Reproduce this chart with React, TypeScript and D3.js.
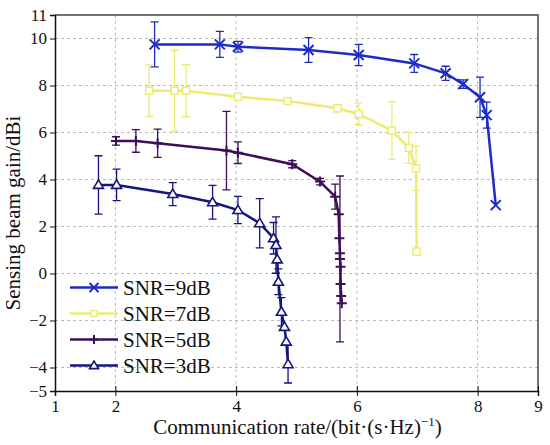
import { useEffect, useRef } from 'react';
import * as d3 from 'd3';

// SNR = 9 dB
const rate9 = [2.65, 3.73, 4.03, 5.2, 6.03, 6.95, 7.47, 7.76, 8.04, 8.15, 8.3];
const gain9 = [9.75, 9.75, 9.65, 9.51, 9.3, 8.94, 8.52, 8.06, 7.5, 6.74, 2.91];
const err9 = [0.96, 0.55, 0.23, 0.53, 0.45, 0.38, 0.3, 0.18, 0.86, 0.55, 0];

// SNR = 7 dB
const rate7 = [2.56, 2.98, 3.17, 4.03, 4.85, 5.68, 6.03, 6.58, 6.86, 6.98, 6.99];
const gain7 = [7.78, 7.78, 7.78, 7.52, 7.34, 7.03, 6.79, 6.08, 5.35, 4.48, 0.93];
const err7 = [1.1, 1.72, 1.11, 0, 0.1, 0.15, 0.46, 1.22, 0.66, 0.94, 0.12];

// SNR = 5 dB
const rate5 = [2.01, 2.34, 2.7, 3.84, 4.03, 4.93, 5.39, 5.64, 5.7, 5.71, 5.72, 5.72, 5.73, 5.73, 5.74, 5.75];
const gain5 = [5.64, 5.64, 5.54, 5.23, 5.14, 4.65, 3.91, 3.27, 2.52, 1.5, 0.86, 0.62, 0.29, -0.45, -0.96, -1.27];
const err5 = [0.18, 0.48, 0.6, 1.67, 0.46, 0.15, 0.14, 0.53, 0, 0, 0, 3.53, 0, 0, 0, 0];

// SNR = 3 dB
const rate3 = [1.72, 2.02, 2.95, 3.61, 4.03, 4.39, 4.62, 4.66, 4.68, 4.7, 4.75, 4.8, 4.83, 4.86];
const gain3 = [3.77, 3.77, 3.38, 3.03, 2.7, 2.14, 1.5, 1.21, 0.6, -0.35, -1.63, -2.27, -2.9, -3.86];
const err3 = [1.24, 0.67, 0.49, 0.72, 0.58, 1.05, 0.67, 1.2, 0, 0.55, 0.6, 0, 0, 0.8];

const xTicks = [1, 2, 4, 6, 8, 9];
const yTicks = [11, 10, 8, 6, 4, 2, 0, -2, -4, -5];
const xGrid = [2, 4, 6, 8];
const yGrid = [10, 8, 6, 4, 2, 0, -2, -4];

const series = [
  { name: 'SNR=9dB', x: rate9, y: gain9, e: err9, color: '#1c2cc4', marker: 'x' },
  { name: 'SNR=7dB', x: rate7, y: gain7, e: err7, color: '#ecec74', marker: 'square' },
  { name: 'SNR=5dB', x: rate5, y: gain5, e: err5, color: '#3e0f58', marker: 'plus' },
  { name: 'SNR=3dB', x: rate3, y: gain3, e: err3, color: '#15157e', marker: 'triangle' },
];

const drawMarker = (g, kind, cx, cy, color, s) => {
  if (kind === 'x') {
    g.append('path')
      .attr('d', `M${cx - s},${cy - s}L${cx + s},${cy + s}M${cx - s},${cy + s}L${cx + s},${cy - s}`)
      .attr('stroke', color).attr('stroke-width', 2).attr('fill', 'none');
  } else if (kind === 'square') {
    g.append('rect')
      .attr('x', cx - s).attr('y', cy - s).attr('width', 2 * s).attr('height', 2 * s)
      .attr('stroke', color).attr('stroke-width', 1.5).attr('fill', 'white');
  } else if (kind === 'plus') {
    g.append('path')
      .attr('d', `M${cx - s},${cy}L${cx + s},${cy}M${cx},${cy - s}L${cx},${cy + s}`)
      .attr('stroke', color).attr('stroke-width', 2).attr('fill', 'none');
  } else {
    g.append('path')
      .attr('d', `M${cx},${cy - s}L${cx + s},${cy + s * 0.7}L${cx - s},${cy + s * 0.7}Z`)
      .attr('stroke', color).attr('stroke-width', 1.6).attr('fill', 'white');
  }
};

const App = () => {
  const svgRef = useRef(null);

  useEffect(() => {
    const svg = d3.select(svgRef.current);
    svg.selectAll('*').remove();

    const width = 550;
    const height = 445;
    const left = 55, right = 538, top = 15, bottom = 391;
    const font = 'Liberation Serif, Tinos, Times New Roman, DejaVu Serif, serif';

    svg.attr('width', width).attr('height', height).style('font-family', font);

    const x = d3.scaleLinear().domain([1, 9]).range([left, right]);
    const y = d3.scaleLinear().domain([-5, 11]).range([bottom, top]);

    // grid
    svg.append('g').selectAll('line').data(xGrid).enter().append('line')
      .attr('x1', d => x(d)).attr('x2', d => x(d)).attr('y1', top).attr('y2', bottom)
      .attr('stroke', '#bbbbbb').attr('stroke-width', 1).attr('stroke-dasharray', '3,3');
    svg.append('g').selectAll('line').data(yGrid).enter().append('line')
      .attr('x1', left).attr('x2', right).attr('y1', d => y(d)).attr('y2', d => y(d))
      .attr('stroke', '#bbbbbb').attr('stroke-width', 1).attr('stroke-dasharray', '3,3');

    // frame (top / right)
    svg.append('path')
      .attr('d', `M${left},${top}H${right}V${bottom}`)
      .attr('stroke', '#444444').attr('stroke-width', 1.5).attr('fill', 'none');

    // series
    series.forEach(s => {
      const g = svg.append('g');
      const pts = s.x.map((v, i) => [v, s.y[i], s.e[i]]);

      // error bars
      pts.filter(p => p[2] > 0).forEach(p => {
        const cx = x(p[0]);
        const y1 = y(p[1] + p[2]);
        const y2 = y(p[1] - p[2]);
        g.append('path')
          .attr('d', `M${cx},${y1}V${y2}M${cx - 4},${y1}H${cx + 4}M${cx - 4},${y2}H${cx + 4}`)
          .attr('stroke', s.color).attr('stroke-width', 1.3).attr('fill', 'none');
      });

      const line = d3.line().x(d => x(d[0])).y(d => y(d[1]));
      g.append('path')
        .datum(pts)
        .attr('d', line)
        .attr('fill', 'none')
        .attr('stroke', s.color)
        .attr('stroke-width', 2.5);

      const size = s.marker === 'square' ? 3.5 : 5;
      pts.forEach(p => drawMarker(g, s.marker, x(p[0]), y(p[1]), s.color, size));
    });

    // axes
    const xAxis = svg.append('g')
      .attr('transform', `translate(0,${bottom})`)
      .call(d3.axisBottom(x).tickValues(xTicks).tickSize(5).tickFormat(d3.format('d')));
    xAxis.attr('font-family', null);
    xAxis.select('.domain').attr('stroke', '#111').attr('stroke-width', 1.5);
    xAxis.selectAll('.tick line').attr('y1', -5).attr('stroke', '#111');
    xAxis.selectAll('text').attr('font-size', 17).attr('fill', '#111').attr('dy', '0.75em');

    const yAxis = svg.append('g')
      .attr('transform', `translate(${left},0)`)
      .call(d3.axisLeft(y).tickValues(yTicks).tickSize(5).tickFormat(d => d < 0 ? `\u2212${-d}` : `${d}`));
    yAxis.attr('font-family', null);
    yAxis.select('.domain').attr('stroke', '#111').attr('stroke-width', 1.5);
    yAxis.selectAll('.tick line').attr('stroke', '#111');
    yAxis.selectAll('text').attr('font-size', 17).attr('fill', '#111');

    // axis titles
    const xTitle = svg.append('text')
      .attr('x', (left + right) / 2 + 1).attr('y', 434)
      .attr('text-anchor', 'middle')
      .attr('font-size', 21).attr('fill', '#111');
    xTitle.append('tspan').text('Communication rate/(bit\u00b7(s\u00b7Hz)');
    xTitle.append('tspan').attr('dy', -8).attr('font-size', 13).text('\u22121');
    xTitle.append('tspan').attr('dy', 8).text(')');

    svg.append('text')
      .attr('transform', `translate(20,213) rotate(-90)`)
      .attr('text-anchor', 'middle')
      .attr('font-size', 21).attr('fill', '#111')
      .text('Sensing beam gain/dBi');

    // legend
    const legend = svg.append('g');
    series.forEach((s, i) => {
      const ly = 287.5 + i * 26;
      legend.append('line')
        .attr('x1', 70).attr('x2', 118).attr('y1', ly).attr('y2', ly)
        .attr('stroke', s.color).attr('stroke-width', 2.5);
      drawMarker(legend, s.marker, 94, ly, s.color, s.marker === 'square' ? 3 : 4.5);
      legend.append('text')
        .attr('x', 123).attr('y', ly + 7)
        .attr('font-size', 21).attr('fill', '#111')
        .text(s.name);
    });
  }, []);

  return <svg ref={svgRef} style={{ display: 'block', position: 'absolute', left: 0, top: 0 }}></svg>;
};

export default App;
